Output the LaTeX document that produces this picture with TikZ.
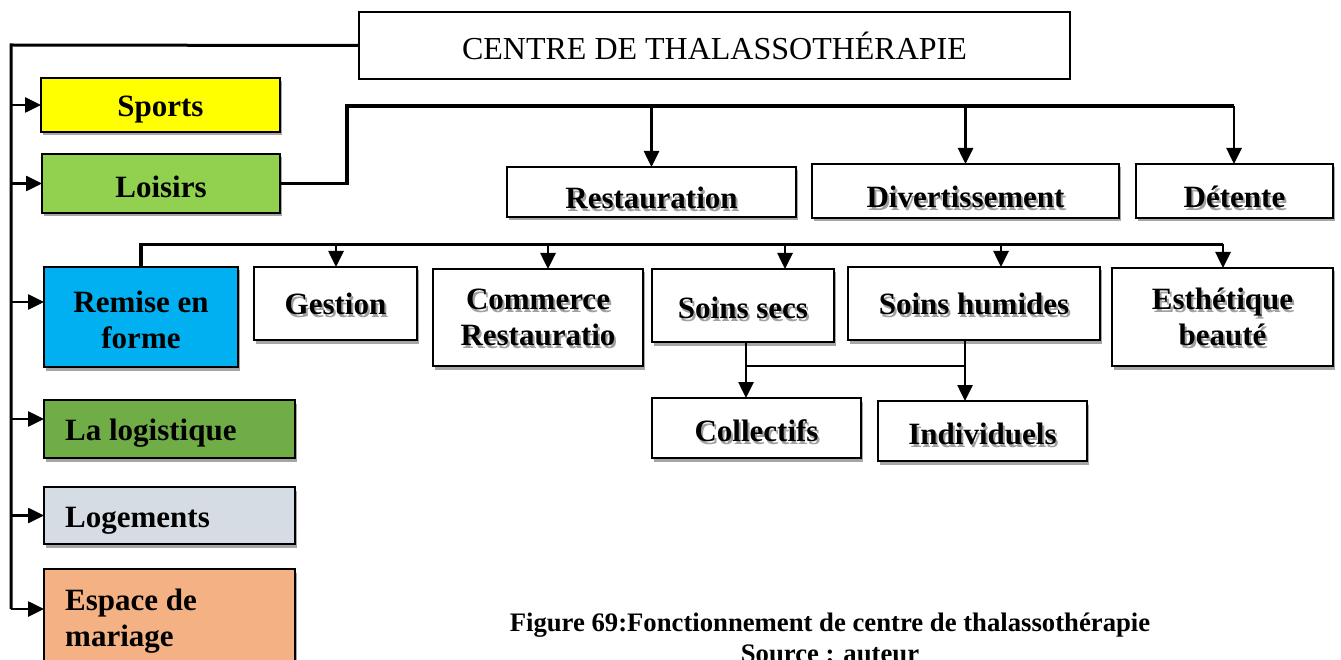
\documentclass[tikz,border=0pt]{standalone}
\usepackage{fontspec}
\setmainfont{Liberation Serif}
\usetikzlibrary{arrows.meta,calc}

\definecolor{cSports}{HTML}{FFFF00}
\definecolor{cLoisirs}{HTML}{92D050}
\definecolor{cRemise}{HTML}{00B0F0}
\definecolor{cLogist}{HTML}{70AD47}
\definecolor{cLogem}{HTML}{D6DCE4}
\definecolor{cEspace}{HTML}{F4B183}
\definecolor{shadowc}{HTML}{A6A6A6}
\definecolor{textshadow}{HTML}{A0A0A0}

% white box with drop shadow: name x1 y1 x2 y2
\newcommand\wbox[5]{%
  \fill[shadowc] (#2+2,#3+3.5) rectangle (#4+2,#5+3.5);
  \node[boxst,fill=white,minimum width={#4-#2},minimum height={#5-#3}]
    (#1) at ({(#2+#4)/2},{(#3+#5)/2}) {};
}
% bold label with a soft grey shadow: [dy] node text
\newcommand\wlabel[3][0]{%
  \node[lbl,text=textshadow] at ([shift={(2,3+#1)}]#2.center) {#3};
  \node[lbl] at ([shift={(0,#1)}]#2.center) {#3};
}
% coloured box with drop shadow: colour name x1 y1 x2 y2
\newcommand\cbox[6]{%
  \fill[shadowc] (#3+2,#4+3.5) rectangle (#5+2,#6+3.5);
  \node[boxst,fill=#1,minimum width={#5-#3},minimum height={#6-#4}]
    (#2) at ({(#3+#5)/2},{(#4+#6)/2}) {};
}

\begin{document}
\begin{tikzpicture}[x=1pt,y=-1pt,
  boxst/.style={draw=black,line width=2pt,inner sep=0pt,outer sep=0pt},
  lbl/.style={font=\fontsize{31}{36}\selectfont\bfseries,align=center,inner sep=0pt},
  thick line/.style={line width=3.4pt},
  trunk/.style={line width=3pt},
  arr/.style={line width=2.6pt,-{Triangle[length=16pt,width=15pt]}},
  caption/.style={font=\fontsize{26.7}{31}\selectfont\bfseries,align=center,inner sep=0pt}]

\useasboundingbox (0,0) rectangle (1341,660);

% ---- title ----
\node[boxst,minimum width=711,minimum height=67,
      font=\fontsize{32}{38}\selectfont] (title) at (714.5,45.5)
      {CENTRE DE THALASSOTHÉRAPIE};

% ---- left column ----
\cbox{cSports}{sports}{41}{78}{280}{132}
\node[lbl] at ([yshift=-5]sports.center) {Sports};
\cbox{cLoisirs}{loisirs}{42}{154}{280}{213}
\node[lbl] at ([yshift=-3]loisirs.center) {Loisirs};
\cbox{cRemise}{remise}{44}{267}{238}{367}
\node[lbl] at ([yshift=-3]remise.center) {Remise en\\forme};
\cbox{cLogist}{logist}{44}{400}{295}{458}
\node[lbl,anchor=west] at (65,433) {La logistique};
\cbox{cLogem}{logem}{44}{487}{295}{544}
\node[lbl,anchor=west] at (65,521) {Logements};
\cbox{cEspace}{espace}{44}{569}{295}{690}
\node[lbl,anchor=west,align=left] at (65,621) {Espace de\\mariage};

% ---- first level of Loisirs ----
\wbox{restau}{507}{167}{796}{217}
\wlabel[6]{restau}{Restauration}
\wbox{divert}{812}{164}{1119}{218}
\wlabel[6]{divert}{Divertissement}
\wbox{detente}{1136}{164}{1333}{218}
\wlabel[6]{detente}{Détente}

% ---- second level of Remise en forme ----
\wbox{gestion}{254}{267}{417}{340}
\wlabel{gestion}{Gestion}
\wbox{commerce}{433}{269}{643}{366}
\wlabel{commerce}{Commerce\\Restauratio}
\wbox{secs}{652}{269}{834}{342}
\wlabel[2]{secs}{Soins secs}
\wbox{humides}{848}{267}{1100}{340}
\wlabel{humides}{Soins humides}
\wbox{esthe}{1112}{268}{1333}{366}
\wlabel{esthe}{Esthétique\\beauté}
\wbox{collect}{652}{398}{861}{458}
\wlabel[3]{collect}{Collectifs}
\wbox{indiv}{878}{401}{1087}{461}
\wlabel[3]{indiv}{Individuels}

% ---- caption ----
\node[caption,anchor=north] (cap) at (830,613)
  {Figure 69:Fonctionnement de centre de thalassothérapie\\Source : auteur};

% ---- trunk from the title down the left side ----
\coordinate (tTop) at (11,45);
\coordinate (tBot) at (11,609);
\draw[trunk] (title.west) -- (tTop) -- (tBot);
\draw[arr] (tTop |- sports.west) -- (sports.west);
\draw[arr] (tTop |- loisirs.west) -- (loisirs.west);
\draw[arr] ([yshift=15]tTop |- remise.west) -- ([yshift=15]remise.west);
\draw[arr] ([yshift=10]tTop |- logist.west) -- ([yshift=10]logist.west);
\draw[arr] (tTop |- logem.west) -- (logem.west);
\draw[arr] (tBot) -- (tBot -| espace.west);

% ---- Loisirs branch ----
\coordinate (lA) at (347,106);
\coordinate (lB) at (1234,106);
\draw[thick line] (loisirs.east) -| (lA) -- (lB);
\draw[arr] (restau.north |- lA) -- (restau.north);
\draw[arr] (divert.north |- lA) -- (divert.north);
\draw[arr] (lB) -- (lB |- detente.north);

% ---- Remise en forme branch ----
\coordinate (rA) at (141,244.5);
\coordinate (rB) at (1223,244.5);
\draw[thick line] (remise.north) -- (rA) -- (rB);
\coordinate (dGes) at (336,244.5);
\coordinate (dCom) at (548,244.5);
\coordinate (dSec) at (785,244.5);
\coordinate (dHum) at (1001,244.5);
\draw[arr] (dGes) -- (dGes |- gestion.north);
\draw[arr] (dCom) -- (dCom |- commerce.north);
\draw[arr] (dSec) -- (dSec |- secs.north);
\draw[arr] (dHum) -- (dHum |- humides.north);
\draw[arr] (rB) -- (rB |- esthe.north);

% ---- Soins secs / Soins humides to Collectifs / Individuels ----
\coordinate (sA) at (746,366);
\coordinate (sB) at (965,366);
\draw[line width=2.6pt] (sA) -- (sB);
\draw[arr] (sA |- secs.south) -- (sA |- collect.north);
\draw[arr] (sB |- humides.south) -- (sB |- indiv.north);

\end{tikzpicture}
\end{document}
